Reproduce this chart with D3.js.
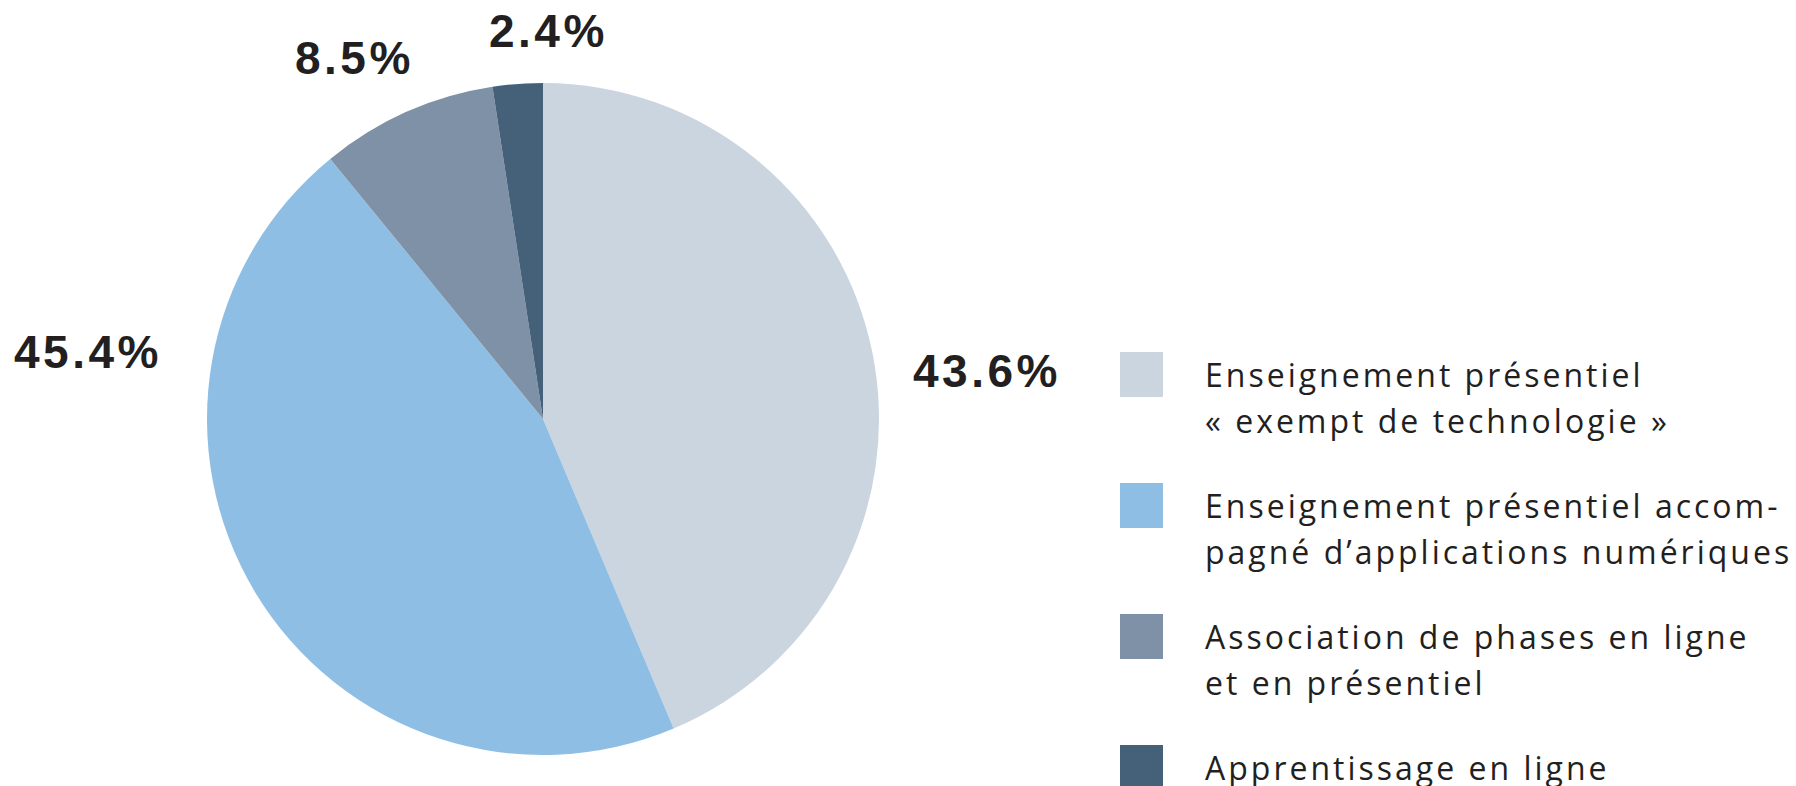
<!DOCTYPE html>
<html>
<head>
<meta charset="utf-8">
<script src="https://cdn.jsdelivr.net/npm/d3@7"></script>
<style>
  body { margin: 0; background: #ffffff; }
  .pie-label { font-family: "Liberation Sans", sans-serif; font-weight: bold; font-size: 46px; fill: #231f20; letter-spacing: 3.5px; }
  .legend-text { font-family: "Open Sans", sans-serif; font-size: 32px; fill: #231f20; letter-spacing: 3px; }
</style>
</head>
<body>
<div id="chart-div"></div>
<script>
// categories (legend order = drawing order, clockwise from 12 o'clock)
const pieCategories = [
    ["Enseignement présentiel", "« exempt de technologie »"],
    ["Enseignement présentiel accom-", "pagné d’applications numériques"],
    ["Association de phases en ligne", "et en présentiel"],
    ["Apprentissage en ligne"]
];
const pieValues = [43.6, 45.4, 8.5, 2.4];
const pieLabels = ["43.6%", "45.4%", "8.5%", "2.4%"];
const pieColors = ["#cad5e0", "#8fbee4", "#7f91a6", "#456179"];

const chartWidth = 1796;
const chartHeight = 786;
const pieCenter = {x: 543, y: 419};
const pieRadius = 336;

// label anchors relative to pie center (start-anchored text, baseline)
const labelOffsets = [
    {dx: 370, dy: -32},
    {dx: -529, dy: -51},
    {dx: -248, dy: -345},
    {dx: -54, dy: -372}
];

// legend layout
const legendLeft = 1120;
const legendTop = 352;
const legendStep = 131;
const legendBox = {w: 43, h: 45};
const legendTextX = 1205;
const legendLineHeight = 46;

const svg = d3.select("#chart-div")
    .append("svg")
        .attr("width", chartWidth)
        .attr("height", chartHeight);

const pie = d3.pie()
    .value(d => d)
    .sort(null);

const arc = d3.arc()
    .innerRadius(0)
    .outerRadius(pieRadius);

const pieG = svg.append("g")
    .attr("transform", `translate(${pieCenter.x},${pieCenter.y})`);

// slices
pieG.selectAll("path")
    .data(pie(pieValues))
    .join("path")
        .attr("d", arc)
        .attr("fill", (d, i) => pieColors[i]);

// percentage labels
pieG.selectAll(".pie-label")
    .data(pieLabels)
    .join("text")
        .attr("class", "pie-label")
        .attr("x", (d, i) => labelOffsets[i].dx)
        .attr("y", (d, i) => labelOffsets[i].dy)
        .text(d => d);

// legend
const legend = svg.append("g")
    .selectAll("g")
    .data(pieCategories)
    .join("g")
        .attr("transform", (d, i) => `translate(0,${legendTop + i * legendStep})`);

legend.append("rect")
    .attr("x", legendLeft)
    .attr("y", 0)
    .attr("width", legendBox.w)
    .attr("height", legendBox.h)
    .attr("fill", (d, i) => pieColors[i]);

legend.append("text")
    .attr("class", "legend-text")
    .selectAll("tspan")
    .data(d => d)
    .join("tspan")
        .attr("x", legendTextX)
        .attr("y", (d, j) => 35 + j * legendLineHeight)
        .text(d => d);
</script>
</body>
</html>
